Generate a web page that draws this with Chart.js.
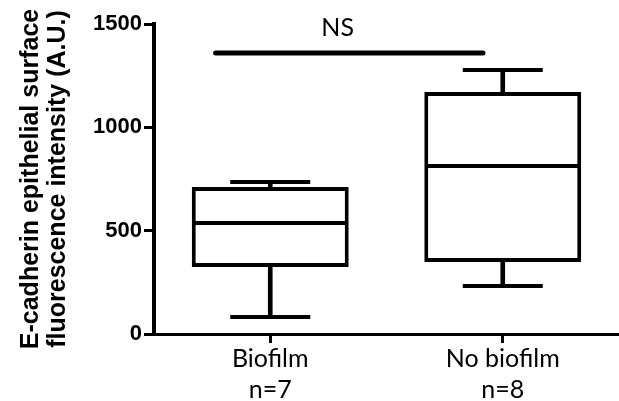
<!DOCTYPE html>
<html>
<head>
<meta charset="utf-8">
<script src="https://cdn.jsdelivr.net/npm/chart.js@4/dist/chart.umd.min.js"></script>
<style>
  body { margin: 0; background: #fff; }
</style>
</head>
<body>
<canvas id="kaavio" width="619" height="401"></canvas>
<script>
// groups and their n
var groups = ['Biofilm', 'No biofilm'];
var nLabels = ['n=7', 'n=8'];

// box plot values (A.U.)
var whiskerMin = [82, 232];
var q1 = [324, 348];
var median = [537, 813];
var q3 = [711, 1171];
var whiskerMax = [735, 1277];

var yTicks = [0, 500, 1000, 1500];
var sigLevel = 1360;
var sigText = 'NS';

var labels = [];
for (let i = 0; i < groups.length; i++) labels.push([groups[i], nLabels[i]]);

var whiskers = [];
var boxes = [];
for (let i = 0; i < groups.length; i++) {
    whiskers.push([whiskerMin[i], whiskerMax[i]]);
    boxes.push([q1[i], q3[i]]);
}

// NS bar above the groups
var sigPlugin = {
    id: 'sig',
    afterDatasetsDraw: function(chart) {
        var ctx = chart.ctx;
        var xs = chart.scales.x;
        var ys = chart.scales.y;
        var c0 = xs.getPixelForValue(0);
        var c1 = xs.getPixelForValue(1);
        var w = c1 - c0;
        var y = ys.getPixelForValue(sigLevel);
        ctx.save();
        ctx.strokeStyle = '#000';
        ctx.lineWidth = 5;
        ctx.lineCap = 'round';
        ctx.beginPath();
        ctx.moveTo(c0 - 0.235 * w, y);
        ctx.lineTo(c1 - 0.085 * w, y);
        ctx.stroke();
        ctx.fillStyle = '#000';
        ctx.font = '25px Lato, "Open Sans", sans-serif';
        ctx.textAlign = 'center';
        ctx.textBaseline = 'alphabetic';
        ctx.fillText(sigText, c0 + 0.29 * w, y - 17);
        ctx.restore();
    }
};

var pointLine = function(values, r) {
    return {
        type: 'line',
        data: values,
        showLine: false,
        pointStyle: 'line',
        pointRadius: r,
        pointHoverRadius: r,
        pointBorderWidth: 4,
        pointBorderColor: '#000',
        borderColor: '#000',
        order: 1
    };
};

new Chart(document.getElementById('kaavio'), {
    type: 'bar',
    data: {
        labels: labels,
        datasets: [
            {
                label: 'whisker',
                data: whiskers,
                backgroundColor: '#000',
                barThickness: 4,
                grouped: false,
                order: 3
            },
            {
                label: 'box',
                data: boxes,
                backgroundColor: '#fff',
                borderColor: '#000',
                borderWidth: 4,
                borderSkipped: false,
                barPercentage: 0.675,
                categoryPercentage: 1,
                grouped: false,
                order: 2
            },
            pointLine(median, 77),
            pointLine(whiskerMax, 40),
            pointLine(whiskerMin, 40)
        ]
    },
    options: {
        responsive: false,
        animation: false,
        layout: { autoPadding: false, padding: { top: 24, right: -3, left: 0, bottom: 0 } },
        plugins: {
            legend: { display: false },
            tooltip: { enabled: false }
        },
        scales: {
            x: {
                offset: true,
                grid: { offset: false, drawOnChartArea: false, tickLength: 9, lineWidth: 3, color: '#000' },
                border: { color: '#000', width: 3 },
                ticks: {
                    color: '#000',
                    padding: 0,
                    maxRotation: 0,
                    font: { family: 'Lato, "Open Sans", sans-serif', size: 25, lineHeight: 1.24 }
                },
                afterFit: function(s) { s.height = 67; }
            },
            y: {
                min: 0,
                max: 1500,
                afterBuildTicks: function(s) {
                    s.ticks = yTicks.map(function(v) { return { value: v }; });
                },
                grid: { drawOnChartArea: false, tickLength: 10, lineWidth: 3, color: '#000' },
                border: { color: '#000', width: 4 },
                ticks: {
                    color: '#000',
                    padding: 2,
                    callback: function(v) { return String(v); },
                    font: { family: '"Liberation Sans", Arial, sans-serif', size: 22, weight: 'bold' }
                },
                title: {
                    display: true,
                    text: ['E-cadherin epithelial surface', 'fluorescence intensity (A.U.)'],
                    color: '#000',
                    padding: { top: 17, bottom: 0 },
                    font: { family: '"Liberation Sans", Arial, sans-serif', size: 25, weight: 'bold', lineHeight: 1.1 }
                },
                afterFit: function(s) { s.width = 154; }
            }
        }
    },
    plugins: [sigPlugin]
});
</script>
</body>
</html>
